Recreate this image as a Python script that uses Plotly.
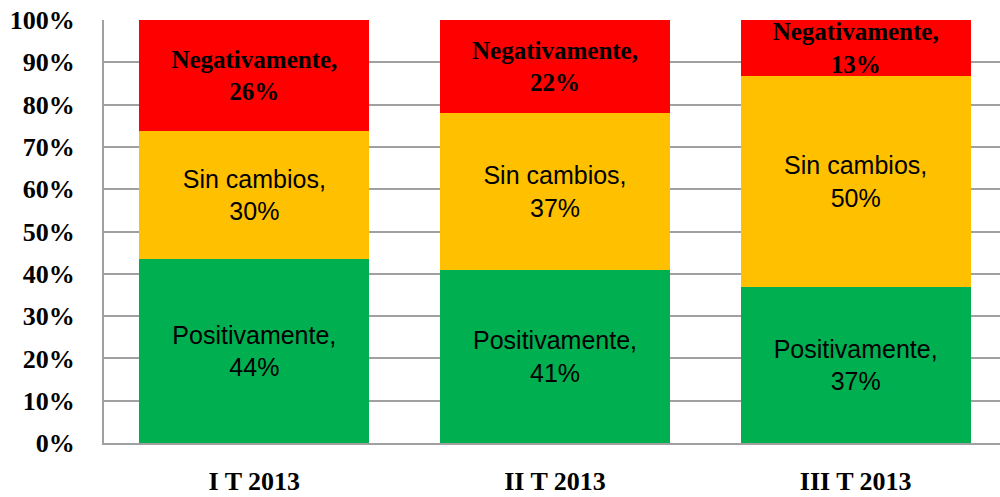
import plotly.graph_objects as go

categories = ["I T 2013", "II T 2013", "III T 2013"]
positivamente = [43.5, 40.9, 36.9]
sin_cambios = [30.3, 37.1, 49.9]
negativamente = [26.2, 22.0, 13.2]
pos_labels = ["44%", "41%", "37%"]
sin_labels = ["30%", "37%", "50%"]
neg_labels = ["26%", "22%", "13%"]
y_ticks = [0, 10, 20, 30, 40, 50, 60, 70, 80, 90, 100]
y_tick_labels = [f"{v}%" for v in y_ticks]

sans = dict(family="Liberation Sans, Arial", size=25, color="black")
serif_b = dict(family="Liberation Serif, Times New Roman", size=26, color="black", weight="bold")

fig = go.Figure()
fig.add_trace(go.Bar(
    x=categories, y=positivamente, name="Positivamente",
    marker=dict(color="#00B050", line=dict(width=0)),
    text=[f"Positivamente,<br>{l}" for l in pos_labels],
    textposition="inside", insidetextanchor="middle",
    textfont=sans, constraintext="none", hoverinfo="skip",
))
fig.add_trace(go.Bar(
    x=categories, y=sin_cambios, name="Sin cambios",
    marker=dict(color="#FFC000", line=dict(width=0)),
    text=[f"Sin cambios,<br>{l}" for l in sin_labels],
    textposition="inside", insidetextanchor="middle",
    textfont=sans, constraintext="none", hoverinfo="skip",
))
fig.add_trace(go.Bar(
    x=categories, y=negativamente, name="Negativamente",
    marker=dict(color="#FF0000", line=dict(width=0)),
    text=[f"<b>Negativamente,</b><br><b>{l}</b>" for l in neg_labels],
    textposition="inside", insidetextanchor="middle",
    textfont=dict(family="Liberation Serif, Times New Roman", size=25, color="black"),
    constraintext="none", hoverinfo="skip",
))

fig.update_layout(
    barmode="stack",
    bargap=0.235,
    width=1000, height=497,
    margin=dict(l=104, r=0, t=20, b=54),
    plot_bgcolor="white", paper_bgcolor="white",
    showlegend=False,
    uniformtext=dict(minsize=25, mode="show"),
    xaxis=dict(
        range=[-0.50, 2.48],
        showline=True, linecolor="#a0a0a0", linewidth=2,
        tickfont=dict(family="Liberation Serif, Times New Roman", size=26, color="black", weight="bold"),
        ticklabelstandoff=14, ticks="", automargin=False,
    ),
    yaxis=dict(
        range=[0, 100], tickvals=y_ticks, ticktext=y_tick_labels,
        showgrid=True, gridcolor="#a0a0a0", gridwidth=2,
        showline=True, linecolor="#a0a0a0", linewidth=2,
        tickfont=serif_b, ticklabelstandoff=22, ticks="",
        zeroline=False, automargin=False,
    ),
)

fig.write_html("out.html", config={"displayModeBar": False},
               post_script="document.body.style.margin='0px';")
